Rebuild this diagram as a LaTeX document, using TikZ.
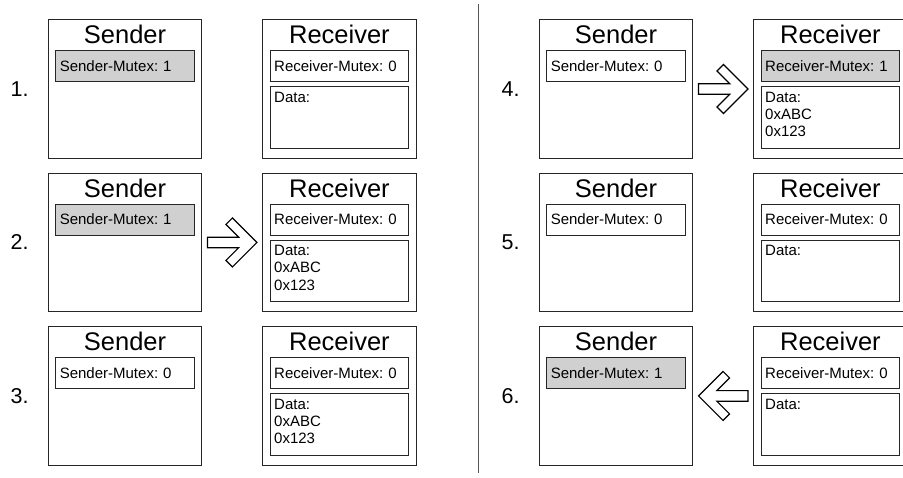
\documentclass[tikz,border=0pt]{standalone}
\usepackage{fontspec}
\setmainfont{Liberation Sans}
\usetikzlibrary{calc}
\definecolor{hl}{HTML}{D0D0D0}
\definecolor{edge}{HTML}{262626}
\definecolor{divgray}{HTML}{555555}
\tikzset{
  frame/.style={draw=edge, line width=1pt, fill=white, minimum width=153.4pt, minimum height=138.4pt, inner sep=0pt, outer sep=0pt},
  mbox/.style={draw=edge, line width=1pt, minimum width=138.4pt, minimum height=31pt, text width=130.4pt, inner xsep=4pt, inner ysep=0pt, outer sep=0pt, align=left, text height=10.7pt, text depth=0pt, font=\fontsize{15}{17.3}\selectfont\frenchspacing},
  dbox/.style={draw=edge, line width=1pt, minimum width=138.4pt, minimum height=61.6pt, inner sep=0pt, outer sep=0pt},
  dtext/.style={inner sep=0pt, outer sep=0pt, align=left, font=\fontsize{15}{17.3}\selectfont\frenchspacing},
  title/.style={inner sep=0pt, outer sep=0pt, font=\fontsize{25.5}{28}\selectfont},
  steplabel/.style={inner sep=0pt, outer sep=0pt, font=\fontsize{21.5}{24}\selectfont},
  arrowline/.style={draw=black, line width=1.2pt, line join=miter, fill=white},
  divider/.style={draw=divgray, line width=1pt},
  blockarrow/.pic={\draw[arrowline] (0,0) -- (-24.5,-24.5) -- (-31,-18) -- (-18.3,-5.3) -- (-49.4,-5.3) -- (-49.4,5.3) -- (-18.3,5.3) -- (-31,18) -- (-24.5,24.5) -- cycle;}
}
\newcommand\drawstep[9]{%
  \node[frame, anchor=north west] (s#1) at (#2,#3) {};
  \node[frame, anchor=north west] (r#1) at (#2+214.4,#3) {};
  \node[title, anchor=base] (s#1t) at ([yshift=-24pt]s#1.north) {Sender};
  \node[title, anchor=base] (r#1t) at ([yshift=-24pt]r#1.north) {Receiver};
  \node[mbox, fill=#5, anchor=north west] (s#1m) at ([xshift=7.5pt,yshift=-30.8pt]s#1.north west) {Sender-Mutex: #6};
  \node[mbox, fill=#7, anchor=north west] (r#1m) at ([xshift=7.5pt,yshift=-30.8pt]r#1.north west) {Receiver-Mutex: #8};
  \node[dbox, anchor=north west] (r#1d) at ([xshift=7.5pt,yshift=-66.8pt]r#1.north west) {};
  \node[dtext, anchor=north west] (r#1dt) at ([xshift=4pt,yshift=-5.3pt]r#1d.north west) {#9};
  \node[steplabel, anchor=base east] (l#1) at ([xshift=-19.7pt,yshift=-7.5pt]s#1.west) {#4.};
}
\begin{document}
\begin{tikzpicture}[x=1pt,y=-1pt]
  \useasboundingbox (0,0) rectangle (903,477);
  \clip (0,0) rectangle (903,477);
  \drawstep{1}{48.3}{19.8}{1}{hl}{1}{white}{0}{Data:}
  \drawstep{2}{48.3}{173.25}{2}{hl}{1}{white}{0}{Data:\\0xABC\\0x123}
  \drawstep{3}{48.3}{326.7}{3}{white}{0}{white}{0}{Data:\\0xABC\\0x123}
  \drawstep{4}{539.3}{19.8}{4}{white}{0}{hl}{1}{Data:\\0xABC\\0x123}
  \drawstep{5}{539.3}{173.25}{5}{white}{0}{white}{0}{Data:}
  \drawstep{6}{539.3}{326.7}{6}{hl}{1}{white}{0}{Data:}
  \coordinate (dtop) at (478,4);
  \coordinate (dbot) at (478,473);
  \draw[divider] (dtop) -- (dbot);
  \pic at ($(s2.east)!0.5!(r2.west)+(24.7,0)$) {blockarrow};
  \pic at ($(s4.east)!0.5!(r4.west)+(24.7,0)$) {blockarrow};
  \pic[rotate=180] at ($(s6.east)!0.5!(r6.west)+(-24.7,0)$) {blockarrow};
\end{tikzpicture}
\end{document}
